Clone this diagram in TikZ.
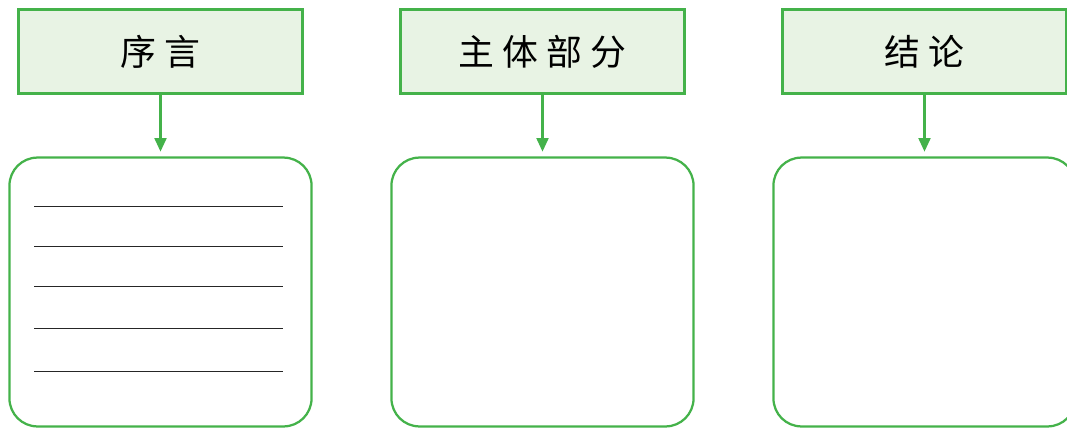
\documentclass[tikz,border=0pt]{standalone}
\usepackage{fontspec}
\newfontfamily\cjk[LetterSpace=22]{Noto Sans CJK SC}
\usetikzlibrary{arrows.meta}
\definecolor{frameGreen}{RGB}{68,178,74}
\definecolor{headFill}{RGB}{232,243,228}
\begin{document}
\begin{tikzpicture}
[x=0.025cm,y=-0.025cm,
  headDecorate/.style={draw=frameGreen,fill=headFill,line width=1.6pt,
    minimum width=7.1cm,minimum height=2.1cm,inner sep=0pt,
    font=\cjk\fontsize{25.5}{30}\selectfont},
  bodyDecorate/.style={draw=frameGreen,line width=1.6pt,rounded corners=0.7cm,
    minimum width=7.55cm,minimum height=6.72cm,inner sep=0pt},
  arrowDecorate/.style={-{Triangle[length=0.34cm,width=0.3cm]},draw=frameGreen,
    line width=1.5pt,shorten >=0.12cm},
  ruleDecorate/.style={black!85,line width=0.6pt}]
\useasboundingbox (0,0) rectangle (1067,429);
\clip (0,0) rectangle (1067,429);
%% heads and bodies
\foreach \nodename/\x/\label in {
  intro/160.5/序言, main/542.5/主体部分, concl/924.5/结论}
{
  \node (h\nodename) at (\x,51.5) [headDecorate] {\label};
  \node (b\nodename) at (\x,292) [bodyDecorate] {};
}
%% arrows
\foreach \nodename in {intro,main,concl}
{
  \draw[arrowDecorate] (h\nodename) -- (b\nodename);
}
%% writing lines
\foreach \y in {206,246,286,328,371}
{
  \draw[ruleDecorate] (34,\y) -- (283,\y);
}
\end{tikzpicture}
\end{document}
